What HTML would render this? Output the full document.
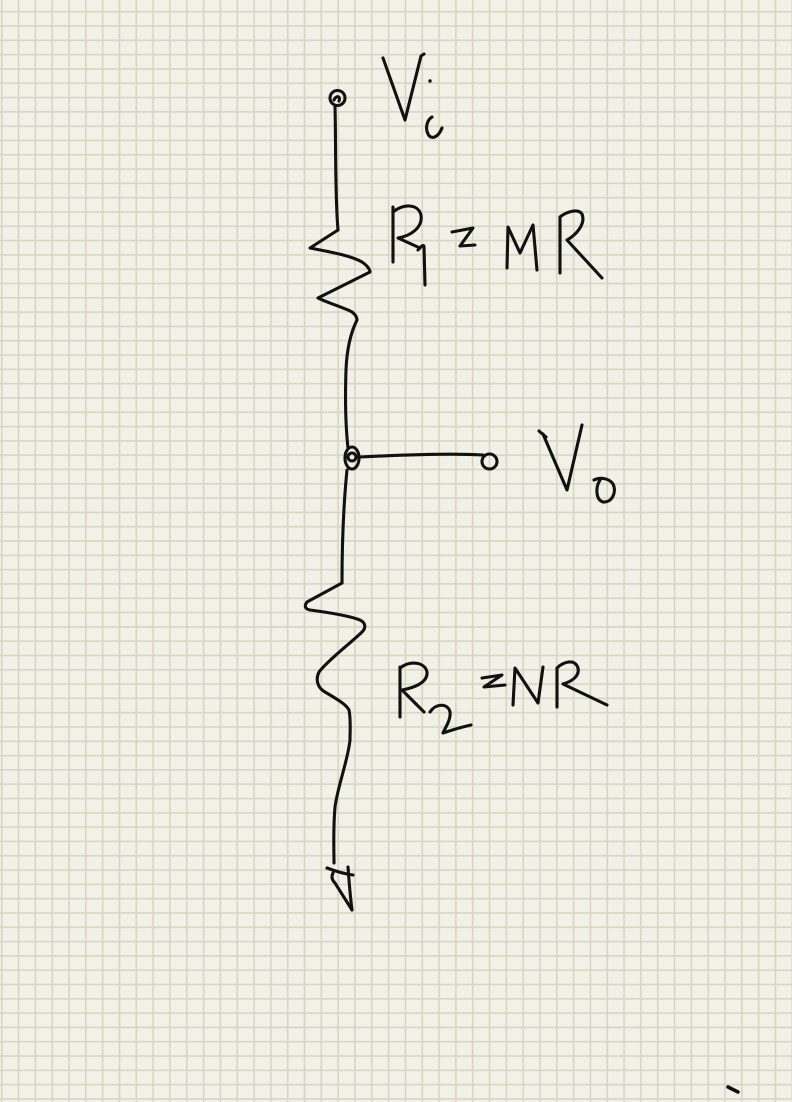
<!DOCTYPE html>
<html>
<head>
<meta charset="utf-8">
<style>
  html, body { margin: 0; padding: 0; background: #f2f1e7; }
  body { width: 792px; height: 1102px; overflow: hidden; }
  svg { display: block; }
  .ink { fill: none; stroke: #111111; stroke-width: 3.1; stroke-linecap: round; stroke-linejoin: round; }
</style>
</head>
<body>
<svg width="792" height="1102" viewBox="0 0 792 1102" xmlns="http://www.w3.org/2000/svg">
  <defs>
    <pattern id="grid" patternUnits="userSpaceOnUse" x="0" y="0" width="16.82" height="14.306">
      <rect x="0" y="0" width="16.82" height="14.306" fill="#f2f1e7"/>
      <rect x="0.95" y="0" width="1.6" height="14.306" fill="#d9d5c4"/>
      <rect x="0" y="10.9" width="16.82" height="1.6" fill="#d9d5c4"/>
    </pattern>
  </defs>
  <rect x="0" y="0" width="792" height="1102" fill="url(#grid)"/>

  <!-- Vi terminal -->
  <circle class="ink" cx="337.5" cy="98" r="7.5"/>
  <path class="ink" d="M334,100 C336,95 341,96 339,101"/>
  <!-- wire down to R1 -->
  <path class="ink" d="M335,106 C336,150 335,195 338,230"/>
  <!-- R1 zigzag and wire to junction -->
  <path class="ink" d="M338,230 L310,248 C325,251 350,255 362,262 C368,266 370,270 370,272 L318,298 C328,303 345,308 352,312 C356,315 357,318 357,320 C352,330 347,345 346,370 C345,400 346,430 348,448"/>
  <!-- junction -->
  <ellipse class="ink" cx="352" cy="458" rx="7" ry="11"/>
  <circle class="ink" cx="352" cy="457" r="4"/>
  <!-- horizontal to Vo -->
  <path class="ink" d="M360,457 C400,455 450,453 483,455"/>
  <circle class="ink" cx="489.5" cy="461.5" r="7.5"/>
  <!-- wire down to R2 -->
  <path class="ink" d="M347,470 C344,500 342,540 342,583"/>
  <!-- R2 zigzag -->
  <path class="ink" d="M342,583 L307,602 C304,606 305,609 310,610 C325,612 350,616 360,620 C366,623 366,628 362,632 C352,642 328,660 319,672 C315,680 318,688 325,692 C335,698 346,704 349,710 C351,720 350,730 350,740"/>
  <!-- wire down to ground -->
  <path class="ink" d="M350,740 C348,760 338,785 335,807 C333,830 334,850 334,863"/>
  <!-- ground symbol -->
  <path class="ink" d="M327,868 C335,871 345,874 353,875"/>
  <path class="ink" d="M333,873 C331,877 332,880 335,883 L352,910"/>
  <path class="ink" d="M348,867 C349,880 350,895 352,910"/>

  <!-- V_i label -->
  <path class="ink" d="M383,58 L405,120 L421,56 L424,54"/>
  <circle cx="430" cy="81" r="1.7" fill="#111111"/>
  <path class="ink" d="M432,117 C427,120 425,128 428,134 C431,140 438,138 442,128"/>

  <!-- R1 = MR label -->
  <path class="ink" d="M393,207 L393,262"/>
  <path class="ink" d="M393,212 C402,204 418,203 421,215 C423,228 410,236 398,238 L420,248"/>
  <path class="ink" d="M418,250 C421,246 424,244 424,247 L425,285"/>
  <path class="ink" d="M452,232 L473,228 L460,246 L475,245"/>
  <path class="ink" d="M507,268 L508,227 L520,253 L533,225 L537,270"/>
  <path class="ink" d="M560,273 L560,217 C566,212 578,208 582,214 C586,224 576,235 567,240 L602,278"/>

  <!-- V_o label -->
  <path class="ink" d="M539,431 L546,437"/>
  <path class="ink" d="M543,434 L567,490 L582,425"/>
  <path class="ink" d="M600,480 C595,488 596,500 603,502 C612,503 617,492 613,484 C609,478 600,477 594,480"/>

  <!-- R2 = NR label -->
  <path class="ink" d="M400,717 L400,667"/>
  <path class="ink" d="M400,668 C410,660 425,662 427,672 C428,683 413,688 402,690 L424,712"/>
  <path class="ink" d="M430,712 C436,703 448,703 450,712 C451,720 445,728 443,733 C452,730 462,727 471,725"/>
  <path class="ink" d="M482,678 L502,675 L484,687 L505,685"/>
  <path class="ink" d="M513,705 L515,668 L538,703 L543,667"/>
  <path class="ink" d="M557,707 L557,668 C563,662 575,658 578,668 C580,677 570,682 563,684 L607,705"/>

  <!-- stray tick -->
  <path d="M728,1087 L738,1092" fill="none" stroke="#111111" stroke-width="3.5" stroke-linecap="round"/>
</svg>
</body>
</html>
